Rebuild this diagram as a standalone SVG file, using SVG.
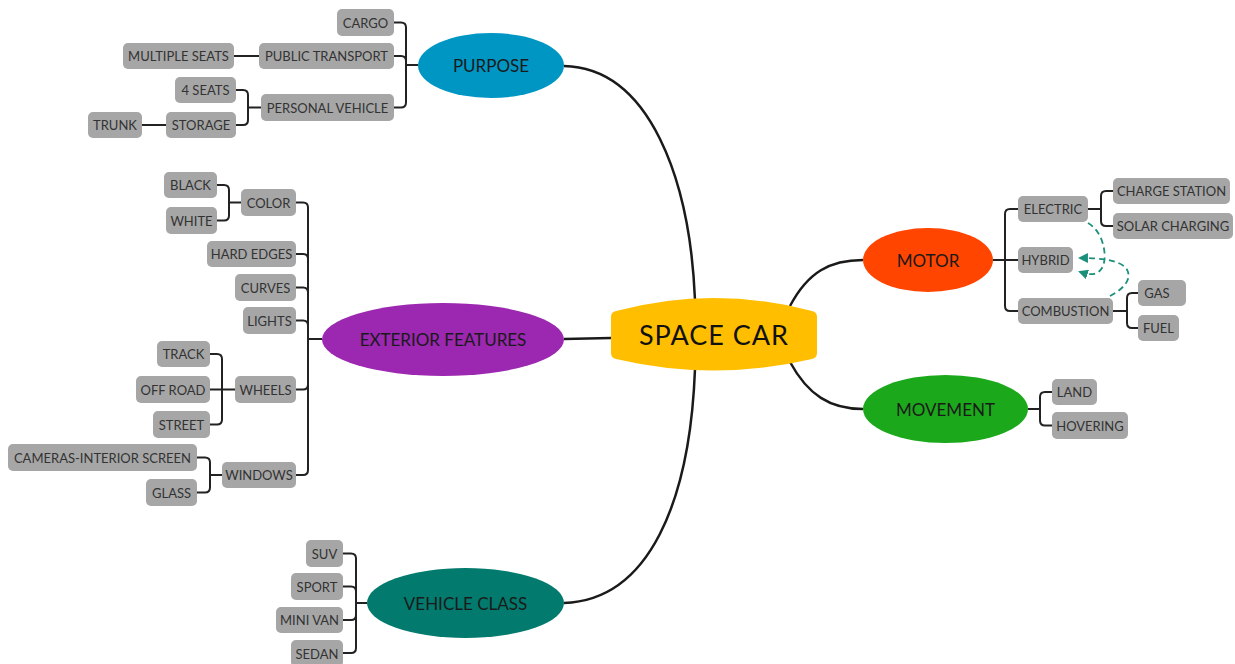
<svg xmlns="http://www.w3.org/2000/svg" width="1235" height="664" viewBox="0 0 1235 664">
<style>
.bx{fill:#A6A6A6;}
.bt{font-family:Lato,"Open Sans",sans-serif;font-size:13px;fill:#333;text-anchor:middle;dominant-baseline:central;}
.et{font-family:Lato,"Open Sans",sans-serif;font-size:17px;fill:#1a1a1a;text-anchor:middle;dominant-baseline:central;}
.ln{fill:none;stroke:#222;stroke-width:2;}
.main{fill:none;stroke:#1a1a1a;stroke-width:2.5;}
.dash{fill:none;stroke:#1A8F7A;stroke-width:1.8;stroke-dasharray:6 4;}
</style>
<defs>
<marker id="ah" viewBox="0 0 10 10" refX="8" refY="5" markerWidth="5.5" markerHeight="5.5" orient="auto">
<path d="M0,0 L10,5 L0,10 Z" fill="#1A8F7A"/>
</marker>
</defs>
<rect width="1235" height="664" fill="#fff"/>
<g id="connectors">
<path class="main" d="M564,66 C650,68 690,180 695,300"/>
<path class="main" d="M564,339 L611,338"/>
<path class="main" d="M695,369 C690,500 650,600 564,603"/>
<path class="main" d="M790,306 C808,272 830,260 863,260"/>
<path class="main" d="M790,362 C808,395 830,409 863,409"/>
<path class="ln" d="M418,65 H406 M394,22.5 H401 Q406,22.5 406,27.5 V102.5 Q406,107.5 401,107.5 H394 M394,56 H401 Q406,56 406,61 V65"/>
<path class="ln" d="M234,56 H259"/>
<path class="ln" d="M261,107.5 H248 M236,90 H243 Q248,90 248,95 V120 Q248,125 243,125 H236"/>
<path class="ln" d="M142,125 H166"/>
<path class="ln" d="M322,339 H308 M296,202.5 H303 Q308,202.5 308,207.5 V470 Q308,475 303,475 H296 M296,254 H303 Q308,254 308,259 M296,287.5 H303 Q308,287.5 308,292.5 M296,320.5 H303 Q308,320.5 308,325.5 M296,389.5 H303 Q308,389.5 308,384.5"/>
<path class="ln" d="M241,202.5 H229 M217,185 H224 Q229,185 229,190 V215.5 Q229,220.5 224,220.5 H217"/>
<path class="ln" d="M210,389.5 H235 M210,354 H217 Q222,354 222,359 V419.5 Q222,424.5 217,424.5 H210"/>
<path class="ln" d="M222,475 H210 M197,457.5 H205 Q210,457.5 210,462.5 V487.5 Q210,492.5 205,492.5 H197"/>
<path class="ln" d="M993,260 H1018 M1018,209 H1010 Q1005,209 1005,214 V306 Q1005,311 1010,311 H1018"/>
<path class="ln" d="M1088,209 H1101 M1113,191 H1106 Q1101,191 1101,196 V221 Q1101,226 1106,226 H1113"/>
<path class="ln" d="M1113,311 H1127 M1138,293 H1132 Q1127,293 1127,298 V323 Q1127,328 1132,328 H1138"/>
<path class="ln" d="M1028,409 H1040 M1052,392 H1045 Q1040,392 1040,397 V420.5 Q1040,425.5 1045,425.5 H1052"/>
<path class="ln" d="M367,603 H356 M343,553.5 H351 Q356,553.5 356,558.5 V648 Q356,653 351,653 H343 M343,586.5 H351 Q356,586.5 356,591.5 M343,620 H351 Q356,620 356,615"/>
<path class="dash" marker-end="url(#ah)" d="M1088,223 C1104,232 1108,258 1102,268 C1097,276 1089,275 1080,272"/>
<path class="dash" marker-end="url(#ah)" d="M1110,296 C1125,288 1133,278 1126,268 C1119,260 1100,258 1080,258"/>
</g>
<g id="center">
<path d="M616,311 Q714,285 812,311 Q817,312 817,317 L817,353 Q817,358 812,359 Q714,382 616,359 Q611,358 611,353 L611,317 Q611,312 616,311 Z" fill="#FFBF00"/>
<text x="714" y="334" font-family="Lato,'Open Sans',sans-serif" font-size="27" letter-spacing="1" fill="#111" text-anchor="middle" dominant-baseline="central">SPACE CAR</text>
</g>
<g id="purpose">
<ellipse cx="491" cy="65.5" rx="73" ry="32.5" fill="#0096C3"/>
<text class="et" x="491" y="65.5">PURPOSE</text>
</g>
<g id="cargo"><rect class="bx" x="337" y="9" width="57" height="27" rx="5"/><text class="bt" x="365.5" y="22.5">CARGO</text></g>
<g id="public-transport"><rect class="bx" x="259" y="43" width="135" height="26" rx="5"/><text class="bt" x="326.5" y="56">PUBLIC TRANSPORT</text></g>
<g id="multiple-seats"><rect class="bx" x="123" y="43" width="111" height="26" rx="5"/><text class="bt" x="178.5" y="56">MULTIPLE SEATS</text></g>
<g id="personal-vehicle"><rect class="bx" x="261" y="94" width="133" height="27" rx="5"/><text class="bt" x="327.5" y="107.5">PERSONAL VEHICLE</text></g>
<g id="four-seats"><rect class="bx" x="175" y="77" width="61" height="26" rx="5"/><text class="bt" x="205.5" y="90">4 SEATS</text></g>
<g id="storage"><rect class="bx" x="166" y="112" width="70" height="26" rx="5"/><text class="bt" x="201" y="125">STORAGE</text></g>
<g id="trunk"><rect class="bx" x="88" y="112" width="54" height="26" rx="5"/><text class="bt" x="115" y="125">TRUNK</text></g>
<g id="exterior">
<ellipse cx="443" cy="339.5" rx="121" ry="36.5" fill="#9C27B0"/>
<text class="et" x="443" y="339.5">EXTERIOR FEATURES</text>
</g>
<g id="color"><rect class="bx" x="241" y="189" width="55" height="27" rx="5"/><text class="bt" x="268.5" y="202.5">COLOR</text></g>
<g id="black"><rect class="bx" x="164" y="172" width="53" height="26" rx="5"/><text class="bt" x="190.5" y="185">BLACK</text></g>
<g id="white"><rect class="bx" x="166" y="207" width="51" height="27" rx="5"/><text class="bt" x="191.5" y="220.5">WHITE</text></g>
<g id="hard-edges"><rect class="bx" x="207" y="241" width="89" height="26" rx="5"/><text class="bt" x="251.5" y="254">HARD EDGES</text></g>
<g id="curves"><rect class="bx" x="235" y="274" width="61" height="27" rx="5"/><text class="bt" x="265.5" y="287.5">CURVES</text></g>
<g id="lights"><rect class="bx" x="243" y="307" width="53" height="27" rx="5"/><text class="bt" x="269.5" y="320.5">LIGHTS</text></g>
<g id="wheels"><rect class="bx" x="235" y="376" width="61" height="27" rx="5"/><text class="bt" x="265.5" y="389.5">WHEELS</text></g>
<g id="track"><rect class="bx" x="157" y="341" width="53" height="26" rx="5"/><text class="bt" x="183.5" y="354">TRACK</text></g>
<g id="off-road"><rect class="bx" x="136" y="376" width="74" height="27" rx="5"/><text class="bt" x="173" y="389.5">OFF ROAD</text></g>
<g id="street"><rect class="bx" x="153" y="411" width="57" height="27" rx="5"/><text class="bt" x="181.5" y="424.5">STREET</text></g>
<g id="windows"><rect class="bx" x="222" y="462" width="74" height="26" rx="5"/><text class="bt" x="259" y="475">WINDOWS</text></g>
<g id="cameras"><rect class="bx" x="8" y="444" width="189" height="27" rx="5"/><text class="bt" x="102.5" y="457.5">CAMERAS-INTERIOR SCREEN</text></g>
<g id="glass"><rect class="bx" x="146" y="479" width="51" height="27" rx="5"/><text class="bt" x="171.5" y="492.5">GLASS</text></g>
<g id="motor">
<ellipse cx="928" cy="260" rx="65" ry="32" fill="#FF4500"/>
<text class="et" x="928" y="260">MOTOR</text>
</g>
<g id="electric"><rect class="bx" x="1018" y="196" width="70" height="26" rx="5"/><text class="bt" x="1053" y="209">ELECTRIC</text></g>
<g id="hybrid"><rect class="bx" x="1018" y="247" width="55" height="26" rx="5"/><text class="bt" x="1045.5" y="260">HYBRID</text></g>
<g id="combustion"><rect class="bx" x="1018" y="298" width="95" height="26" rx="5"/><text class="bt" x="1065.5" y="311">COMBUSTION</text></g>
<g id="charge-station"><rect class="bx" x="1113" y="178" width="117" height="26" rx="5"/><text class="bt" x="1171.5" y="191">CHARGE STATION</text></g>
<g id="solar-charging"><rect class="bx" x="1113" y="213" width="120" height="26" rx="5"/><text class="bt" x="1173" y="226">SOLAR CHARGING</text></g>
<g id="gas"><rect class="bx" x="1138" y="280" width="48" height="26" rx="5"/><text class="bt" x="1157" y="293">GAS</text></g>
<g id="fuel"><rect class="bx" x="1138" y="315" width="41" height="26" rx="5"/><text class="bt" x="1158.5" y="328">FUEL</text></g>
<g id="movement">
<ellipse cx="945.5" cy="409" rx="82.5" ry="34" fill="#1BA81B"/>
<text class="et" x="945.5" y="409">MOVEMENT</text>
</g>
<g id="land"><rect class="bx" x="1052" y="379" width="45" height="26" rx="5"/><text class="bt" x="1074.5" y="392">LAND</text></g>
<g id="hovering"><rect class="bx" x="1052" y="412" width="76" height="27" rx="5"/><text class="bt" x="1090" y="425.5">HOVERING</text></g>
<g id="vehicle-class">
<ellipse cx="465.5" cy="603" rx="98.5" ry="35" fill="#027A6D"/>
<text class="et" x="465.5" y="603">VEHICLE CLASS</text>
</g>
<g id="suv"><rect class="bx" x="306" y="540" width="37" height="27" rx="5"/><text class="bt" x="324.5" y="553.5">SUV</text></g>
<g id="sport"><rect class="bx" x="291" y="573" width="52" height="27" rx="5"/><text class="bt" x="317" y="586.5">SPORT</text></g>
<g id="mini-van"><rect class="bx" x="276" y="607" width="67" height="26" rx="5"/><text class="bt" x="309.5" y="620">MINI VAN</text></g>
<g id="sedan"><rect class="bx" x="291" y="640" width="52" height="27" rx="5"/><text class="bt" x="317" y="653.5">SEDAN</text></g>
</svg>
